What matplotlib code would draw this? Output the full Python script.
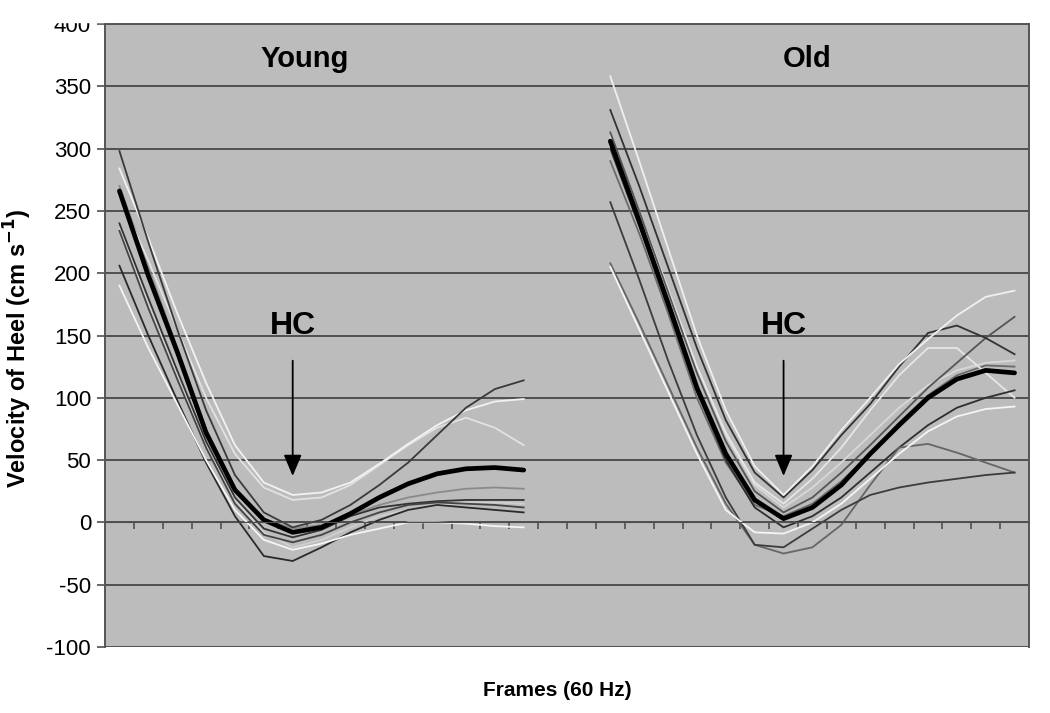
import numpy as np
import matplotlib
matplotlib.use("Agg")
import matplotlib.pyplot as plt
from matplotlib.patches import Rectangle

plt.rcParams['font.family'] = ['Liberation Sans', 'DejaVu Sans']
plt.rcParams['axes.unicode_minus'] = False

# categories (frames at 60 Hz), 32 slots on the axis
n_cat = 32
young_x = np.arange(0, 15)
old_x = np.arange(17, 32)

# ---- Young: individual subjects (cm/s) ----
young_1 = [298, 225, 155, 90, 38, 8, -4, 2, 14, 30, 48, 70, 92, 107, 114]
young_2 = [284, 228, 168, 112, 62, 32, 22, 24, 32, 47, 63, 78, 90, 97, 99]
young_3 = [262, 210, 155, 100, 55, 28, 18, 20, 30, 46, 62, 76, 84, 76, 62]
young_4 = [190, 140, 95, 50, 10, -14, -22, -17, -10, -5, 0, 0, -1, -3, -4]
young_5 = [206, 150, 98, 48, 5, -27, -31, -20, -8, 2, 10, 14, 12, 10, 8]
young_6 = [240, 180, 122, 65, 20, -5, -12, -6, 5, 12, 15, 17, 18, 18, 18]
young_7 = [234, 172, 115, 60, 15, -10, -16, -10, 0, 8, 14, 16, 15, 14, 12]
young_8 = [270, 205, 140, 75, 28, 3, -5, -2, 6, 14, 20, 24, 27, 28, 27]
young_9 = [236, 175, 118, 62, 18, -8, -20, -14, -4, 5, 10, 14, 16, 16, 15]
young_mean = [266, 198, 137, 72, 26, 2, -8, -4, 7, 20, 31, 39, 43, 44, 42]

# ---- Old ----
old_1 = [358, 290, 220, 150, 90, 45, 22, 45, 74, 100, 127, 147, 166, 181, 186]
old_2 = [331, 270, 205, 140, 82, 40, 20, 42, 70, 95, 125, 152, 158, 148, 135]
old_3 = [313, 250, 185, 120, 65, 25, 8, 20, 40, 62, 85, 108, 128, 148, 165]
old_4 = [300, 245, 185, 125, 72, 32, 15, 35, 60, 90, 118, 140, 140, 120, 100]
old_5 = [290, 232, 168, 100, 48, 14, 5, 15, 33, 55, 80, 102, 118, 126, 125]
old_6 = [310, 250, 188, 125, 70, 30, 12, 28, 48, 70, 92, 110, 122, 128, 130]
old_7 = [300, 238, 172, 105, 50, 12, -4, 5, 20, 40, 60, 78, 92, 100, 106]
old_8 = [205, 155, 105, 55, 10, -8, -9, 0, 15, 35, 55, 73, 85, 91, 93]
old_9 = [208, 160, 110, 60, 15, -18, -25, -20, -2, 30, 60, 63, 56, 48, 40]
old_10 = [257, 195, 130, 70, 20, -18, -20, -5, 10, 22, 28, 32, 35, 38, 40]
old_mean = [306, 242, 176, 108, 55, 18, 3, 12, 30, 55, 78, 100, 115, 122, 120]

young_lines = [
    (young_8, '#8a8a8a'), (young_3, '#e2e2e2'), (young_9, '#cfcfcf'),
    (young_6, '#333333'), (young_7, '#444444'), (young_5, '#2a2a2a'),
    (young_4, '#f5f5f5'), (young_2, '#f2f2f2'), (young_1, '#3a3a3a'),
]
old_lines = [
    (old_5, '#6a6a6a'), (old_6, '#d8d8d8'), (old_4, '#e6e6e6'),
    (old_7, '#2e2e2e'), (old_3, '#555555'), (old_9, '#666666'),
    (old_10, '#3c3c3c'), (old_8, '#f5f5f5'), (old_2, '#333333'),
    (old_1, '#f0f0f0'),
]

fig = plt.figure(figsize=(10.5, 7.13), dpi=100)
ax = fig.add_axes([0.1, 0.0926, 0.88, 0.8737])
ax.set_facecolor('#bcbcbc')

ax.set_ylim(-100, 400)
ax.set_xlim(-0.5, n_cat - 0.5)
ax.set_yticks(np.arange(-100, 401, 50))
ax.yaxis.grid(True, color='#505050', linewidth=1.4)
ax.set_axisbelow(True)
ax.tick_params(axis='y', direction='out', length=6, width=1.2, color='#505050',
               labelsize=16, pad=4)

# category axis crosses at 0, tick marks between categories
ax.spines['bottom'].set_position(('data', 0))
ax.spines['bottom'].set_color('#505050')
ax.set_xticks(np.arange(0.5, n_cat - 1, 1.0))
ax.tick_params(axis='x', direction='out', length=5, width=1.2, color='#505050',
               labelbottom=False)
for s in ['left', 'right', 'top']:
    ax.spines[s].set_color('#555555')
    ax.spines[s].set_linewidth(1.4)

for vals, c in young_lines:
    ax.plot(young_x, vals, color=c, lw=1.3)
ax.plot(young_x, young_mean, color='black', lw=3.4, solid_capstyle='round')

for vals, c in old_lines:
    ax.plot(old_x, vals, color=c, lw=1.3)
ax.plot(old_x, old_mean, color='black', lw=3.4, solid_capstyle='round')

ax.text(6.4, 372, 'Young', fontsize=21, fontweight='bold', ha='center', va='center')
ax.text(23.8, 372, 'Old', fontsize=21, fontweight='bold', ha='center', va='center')

for hx in [6, 23]:
    ax.text(hx, 158, 'HC', fontsize=23, fontweight='bold', ha='center', va='center')
    ax.annotate('', xy=(hx, 35), xytext=(hx, 132),
                arrowprops=dict(arrowstyle='-|>,head_width=0.55,head_length=1.3',
                                color='black', lw=1.3))

ax.set_ylabel('Velocity of Heel (cm s$^{\\mathbf{-1}}$)', fontsize=17,
              fontweight='bold')
ax.yaxis.set_label_coords(-0.077, 0.48)
fig.text(557 / 1050, 1 - 690 / 713, 'Frames (60 Hz)', fontsize=15,
         fontweight='bold', ha='center', va='center')

# top of the scan is cut off
fig.patches.append(Rectangle((0, 1 - 22 / 713), 0.099, 22 / 713, transform=fig.transFigure,
                             color='white', zorder=10))

fig.savefig('out.png', dpi=100)
